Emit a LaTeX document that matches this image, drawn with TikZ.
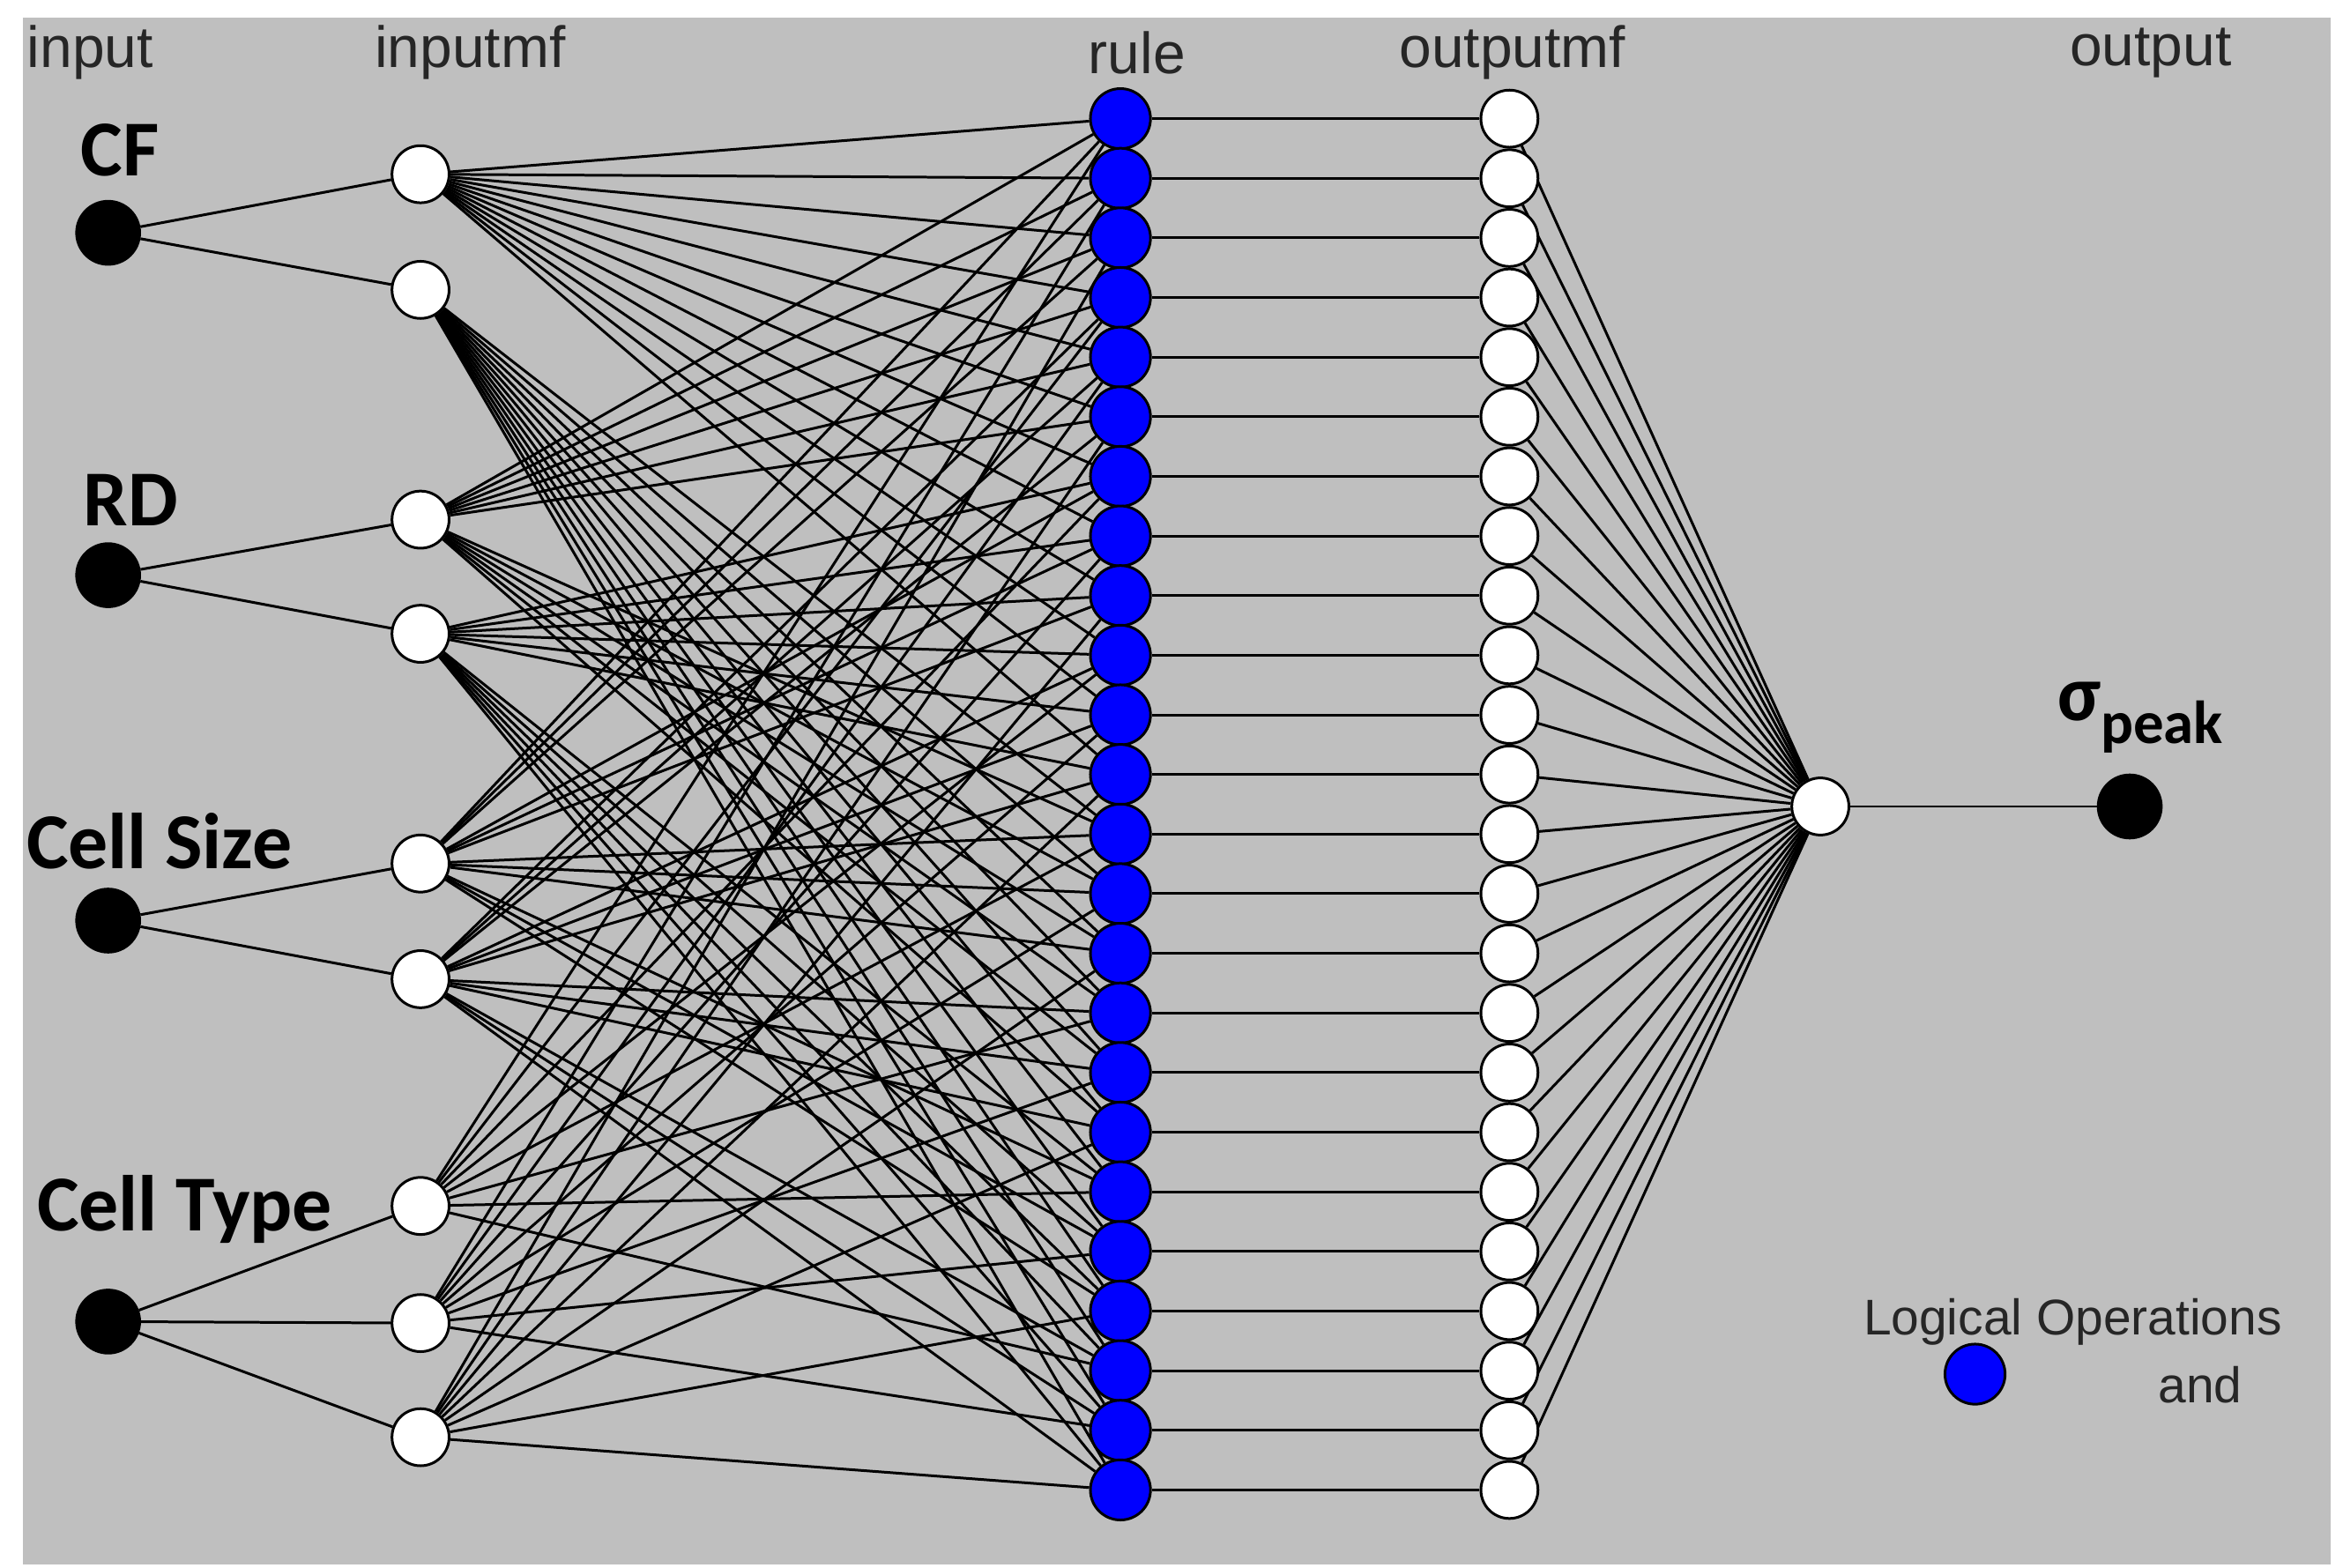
\documentclass[tikz,border=0pt]{standalone}
\usepackage{fontspec}
\setmainfont{Liberation Sans}
\newfontfamily\labelfont{Carlito}
\pgfdeclarelayer{bg}
\pgfdeclarelayer{edges}
\pgfsetlayers{bg,edges,main}
\definecolor{panel}{rgb}{0.75,0.75,0.75}
\definecolor{ruleblue}{rgb}{0,0,1}
\begin{document}
\begin{tikzpicture} [
	x=0.01cm, y=-0.01cm,
	every node/.style = {inner sep=0pt},
	innode/.style = {circle, draw=black, fill=black, minimum size=0.42cm},
	mfnode/.style = {circle, draw=black, fill=white, minimum size=0.38cm},
	rulenode/.style = {circle, draw=black, fill=ruleblue, minimum size=0.40cm},
	title/.style = {font=\fontsize{11}{13}\selectfont, text=black!85},
	varlabel/.style = {font=\labelfont\bfseries\fontsize{15}{17}\selectfont},
	every path/.style = {line width=0.5pt}
]
\useasboundingbox (0,0) rectangle (1560,1044);
\begin{pgfonlayer}{bg}
\fill[panel] (15,12) rectangle (1552,1042);
\end{pgfonlayer}

% column titles
\node[title] (tin) at (60,35) {input};
\node[title] (tmf) at (313,35) {inputmf};
\node[title] (trule) at (757,35) {rule};
\node[title] (tomf) at (1007,35) {outputmf};
\node[title] (tout) at (1432,35) {output};

% inputs
\node[innode] (cf) at (72,155) {};
\node[innode] (rd) at (72,383) {};
\node[innode] (cs) at (72,613) {};
\node[innode] (ct) at (72,880) {};
\node[varlabel] (lcf) at (80,100) {CF};
\node[varlabel] (lrd) at (87,333) {RD};
\node[varlabel] (lcs) at (106,560) {Cell Size};
\node[varlabel] (lct) at (123,805) {Cell Type};

% input membership functions
\node[mfnode] (cf0) at (280,116) {};
\node[mfnode] (cf1) at (280,193) {};
\node[mfnode] (rd0) at (280,346) {};
\node[mfnode] (rd1) at (280,422) {};
\node[mfnode] (cs0) at (280,575) {};
\node[mfnode] (cs1) at (280,652) {};
\node[mfnode] (ct0) at (280,803) {};
\node[mfnode] (ct1) at (280,881) {};
\node[mfnode] (ct2) at (280,957) {};

% rules and output mfs
\foreach \i in {0,...,23} {
	\pgfmathsetmacro\yy{79+\i*39.7}
	\node[rulenode] (r\i) at (746,\yy) {};
	\node[mfnode] (o\i) at (1005,\yy) {};
}
\node[mfnode] (agg) at (1212,537) {};
\node[innode] (out) at (1418,537) {};
\node[varlabel] (lout) at (1425,478) {σ\raisebox{-0.6ex}{\fontsize{11.5}{13}\selectfont peak}};

% legend
\node[title, font=\fontsize{9.5}{11}\selectfont] (lg) at (1380,880) {Logical Operations};
\node[rulenode] (lgdot) at (1315,915) {};
\node[title, font=\fontsize{9.5}{11}\selectfont] (lgand) at (1465,922) {and};

\begin{pgfonlayer}{edges}
\draw (cf) -- (cf0); \draw (cf) -- (cf1);
\draw (rd) -- (rd0); \draw (rd) -- (rd1);
\draw (cs) -- (cs0); \draw (cs) -- (cs1);
\draw (ct) -- (ct0); \draw (ct) -- (ct1); \draw (ct) -- (ct2);
\foreach \i in {0,...,23} {
	\pgfmathtruncatemacro\a{int(\i/12)}
	\pgfmathtruncatemacro\b{mod(int(\i/6),2)}
	\pgfmathtruncatemacro\c{mod(int(\i/3),2)}
	\pgfmathtruncatemacro\d{mod(\i,3)}
	\draw (cf\a) -- (r\i);
	\draw (rd\b) -- (r\i);
	\draw (cs\c) -- (r\i);
	\draw (ct\d) -- (r\i);
	\draw (r\i) -- (o\i);
	\draw (o\i) -- (agg);
}
\draw (agg) -- (out);
\end{pgfonlayer}
\end{tikzpicture}
\end{document}
